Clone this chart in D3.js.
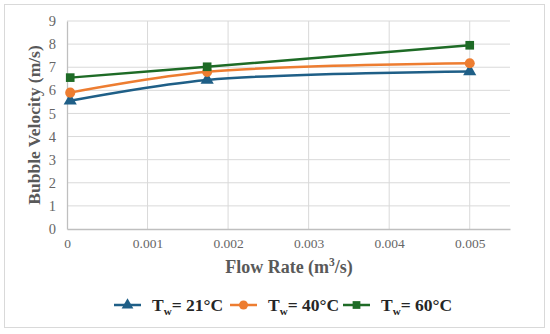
<!DOCTYPE html>
<html>
<head>
<meta charset="utf-8">
<script src="https://cdn.jsdelivr.net/npm/d3@7"></script>
<style>
  body { margin: 0; background: #fff; }
</style>
</head>
<body>
<svg id="chart" width="550" height="334"></svg>
<script>
// data
var flowRates = [0.00004, 0.00174, 0.005]
var v21 = [5.55, 6.45, 6.82]
var v40 = [5.9, 6.8, 7.17]
var v60 = [6.55, 7.02, 7.95]
var xTicks = [0, 0.001, 0.002, 0.003, 0.004, 0.005]
var yTicks = [0, 1, 2, 3, 4, 5, 6, 7, 8, 9]
var seriesNames = ['21°C', '40°C', '60°C']

var serif = '"Liberation Serif"'
var svg = d3.select('#chart').style('font-family', serif)

// outer frame
svg.append('rect')
  .attr('x', 4.5).attr('y', 4.5)
  .attr('width', 540).attr('height', 323)
  .attr('fill', 'white')
  .attr('stroke', '#d9d9d9')
  .attr('stroke-width', 1)

// plot box (don't call it "top", window.top is taken)
var plotL = 67, plotR = 510, plotT = 21, plotB = 229

var x = d3.scaleLinear().domain([0, 0.0055]).range([plotL, plotR])
var y = d3.scaleLinear().domain([0, 9]).range([plotB, plotT])

// grid
svg.append('g')
  .selectAll('line')
  .data(yTicks.slice(1))
  .join('line')
  .attr('x1', plotL).attr('x2', plotR)
  .attr('y1', d => y(d)).attr('y2', d => y(d))
  .attr('stroke', '#d9d9d9')

svg.append('g')
  .selectAll('line')
  .data(xTicks.slice(1))
  .join('line')
  .attr('x1', d => x(d)).attr('x2', d => x(d))
  .attr('y1', plotT).attr('y2', plotB)
  .attr('stroke', '#d9d9d9')

// axes
var xAxis = svg.append('g')
  .attr('transform', `translate(0,${plotB})`)
  .call(d3.axisBottom(x).tickValues(xTicks).tickSize(0).tickPadding(9).tickFormat(d => d === 0 ? '0' : d3.format('.3f')(d)))
xAxis.attr('font-family', 'Liberation Serif').attr('font-size', 13.5)
xAxis.select('.domain').attr('stroke', '#bfbfbf').attr('stroke-width', 1.3)
xAxis.selectAll('text').attr('fill', '#666').style('font-family', serif)

var yAxis = svg.append('g')
  .attr('transform', `translate(${plotL},0)`)
  .call(d3.axisLeft(y).tickValues(yTicks).tickSize(0).tickPadding(11))
yAxis.attr('font-family', 'Liberation Serif').attr('font-size', 14.5)
yAxis.select('.domain').attr('stroke', '#bfbfbf').attr('stroke-width', 1.3)
yAxis.selectAll('text').attr('fill', '#666').style('font-family', serif)

// axis titles
var xTitle = svg.append('text')
  .attr('x', 289).attr('y', 273)
  .attr('text-anchor', 'middle')
  .style('font-family', serif).attr('font-size', 18).attr('font-weight', 'bold')
  .attr('fill', '#595959')
xTitle.append('tspan').text('Flow Rate (m')
xTitle.append('tspan').text('3').attr('font-size', 11.5).attr('dy', -7)
xTitle.append('tspan').text('/s)').attr('dy', 7)

svg.append('text')
  .attr('transform', 'translate(40,125) rotate(-90)')
  .attr('text-anchor', 'middle')
  .style('font-family', serif).attr('font-size', 17.5).attr('font-weight', 'bold')
  .attr('fill', '#595959')
  .text('Bubble Velocity (m/s)')

// series
var colors = ['#1f5f87', '#ed7d31', '#1e6b26']
var allSeries = [v21, v40, v60]
var shapes = [d3.symbolTriangle, d3.symbolCircle, d3.symbolSquare]
var sizes = [75, 80, 75]

var line = d3.line()
  .x((d, i) => x(flowRates[i]))
  .y(d => y(d))
  .curve(d3.curveCatmullRom.alpha(0.5))

allSeries.forEach((vals, k) => {
  svg.append('path')
    .attr('d', line(vals))
    .attr('fill', 'none')
    .attr('stroke', colors[k])
    .attr('stroke-width', 2.5)

  svg.append('g')
    .selectAll('path')
    .data(vals)
    .join('path')
    .attr('transform', (d, i) => `translate(${x(flowRates[i])},${y(d)})`)
    .attr('d', d3.symbol().type(shapes[k]).size(sizes[k]))
    .attr('fill', colors[k])
})

// legend
var legendX = [114, 230, 343]
seriesNames.forEach((name, k) => {
  var g = svg.append('g').attr('transform', `translate(${legendX[k]},305)`)
  g.append('line')
    .attr('x1', 0).attr('x2', 27)
    .attr('stroke', colors[k]).attr('stroke-width', 2.5)
  g.append('path')
    .attr('transform', 'translate(13.5,0)')
    .attr('d', d3.symbol().type(shapes[k]).size(sizes[k] * 0.8))
    .attr('fill', colors[k])
  var t = g.append('text')
    .attr('x', 38).attr('y', 6)
    .style('font-family', serif).attr('font-size', 17.5).attr('font-weight', 'bold')
    .attr('fill', '#262626')
  t.append('tspan').text('T')
  t.append('tspan').text('w').attr('font-size', 11).attr('dy', 4)
  t.append('tspan').text('= ' + name).attr('dy', -4)
})
</script>
</body>
</html>
